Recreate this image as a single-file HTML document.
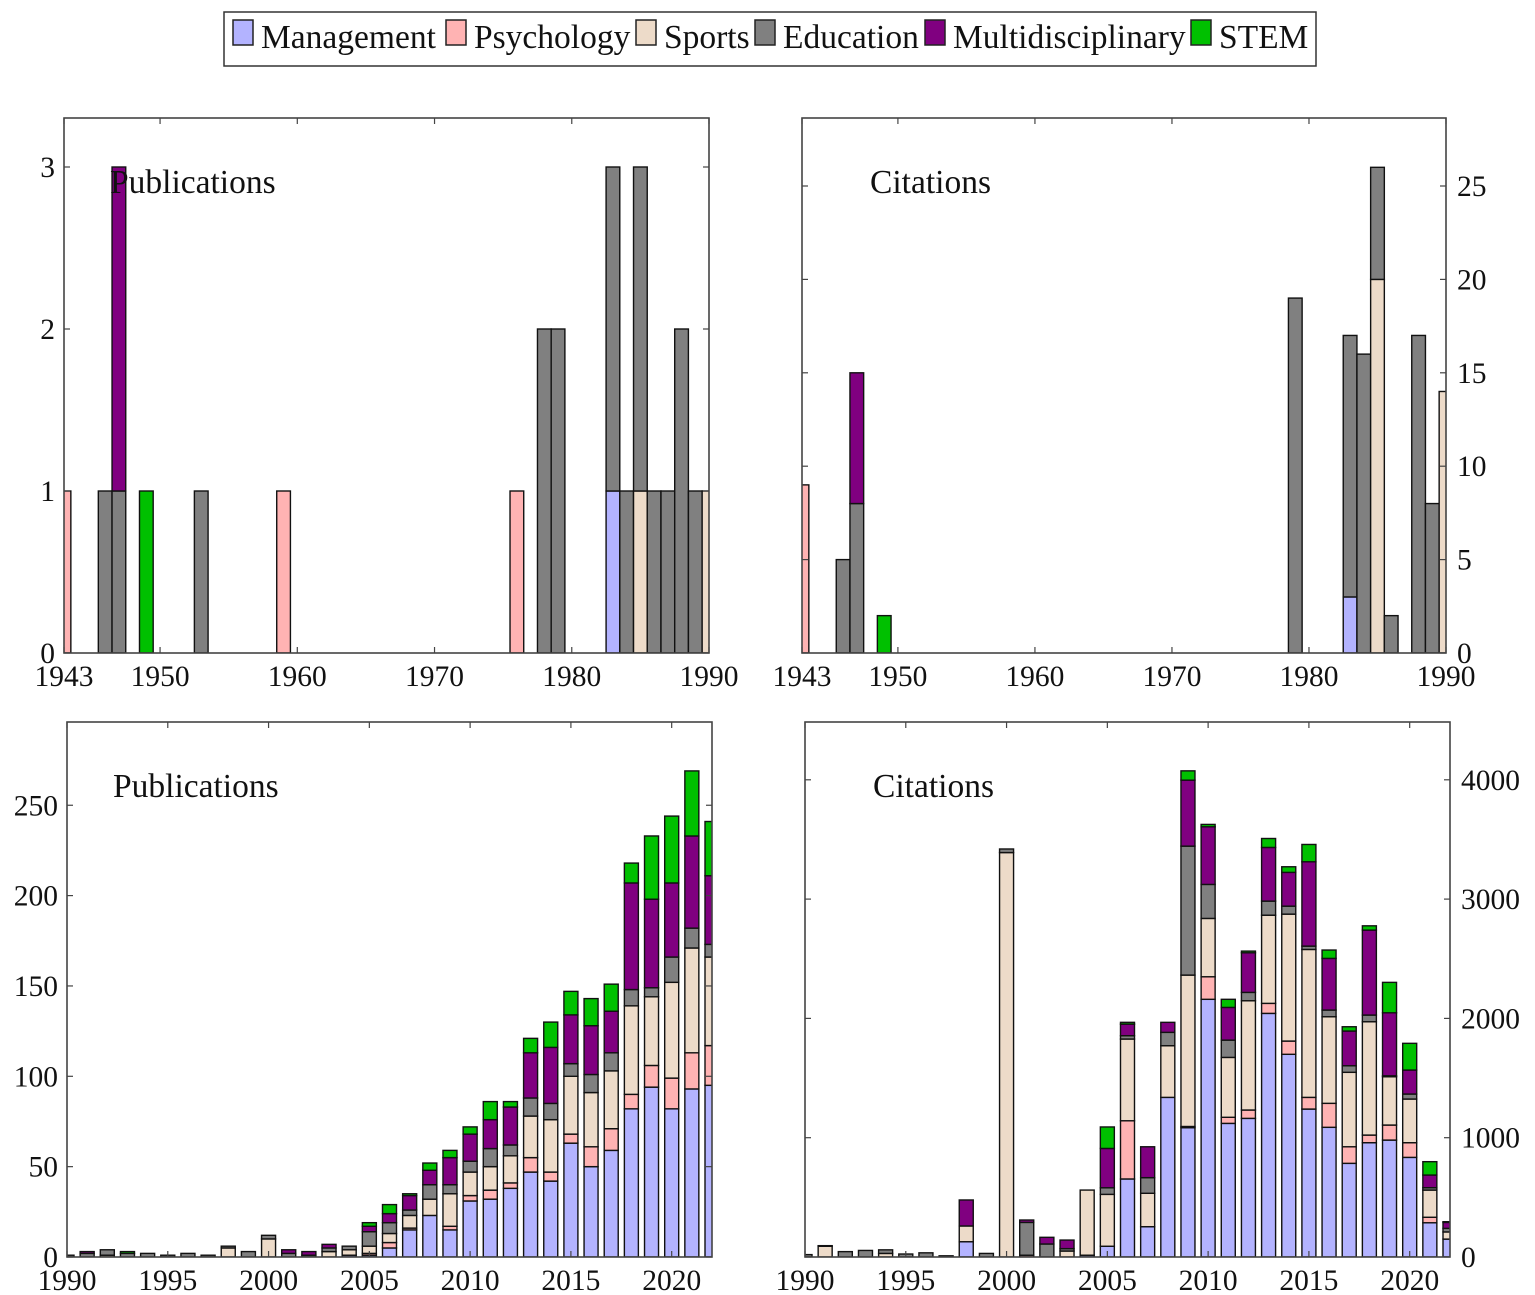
<!DOCTYPE html>
<html><head><meta charset="utf-8"><style>
html,body{margin:0;padding:0;background:#fff;}
svg{display:block;font-family:"Liberation Serif",serif;}
</style></head><body>
<svg id="chart" width="1535" height="1295" viewBox="0 0 1535 1295" xmlns="http://www.w3.org/2000/svg">
<g id="legend">
<rect x="224" y="12" width="1092" height="54" fill="#fff" stroke="#333" stroke-width="1.5"/>
</g>
</svg>
<script>
// ---------- data ----------
const categories = ["Management","Psychology","Sports","Education","Multidisciplinary","STEM"];
const colors = ["#b3b3ff","#ffb3b3","#eddbc9","#808080","#800080","#00c000"];

// top-left: early publications
const earlyPubYears = [1943,1946,1947,1949,1953,1959,1976,1978,1979,1983,1984,1985,1986,1987,1988,1989,1990];
const earlyPubMgmt  = [0,0,0,0,0,0,0,0,0,1,0,0,0,0,0,0,0];
const earlyPubPsych = [1,0,0,0,0,1,1,0,0,0,0,0,0,0,0,0,0];
const earlyPubSports= [0,0,0,0,0,0,0,0,0,0,0,1,0,0,0,0,1];
const earlyPubEdu   = [0,1,1,0,1,0,0,2,2,2,1,2,1,1,2,1,0];
const earlyPubMulti = [0,0,2,0,0,0,0,0,0,0,0,0,0,0,0,0,0];
const earlyPubStem  = [0,0,0,1,0,0,0,0,0,0,0,0,0,0,0,0,0];

// top-right: early citations
const earlyCitYears = [1943,1946,1947,1949,1979,1983,1984,1985,1986,1988,1989,1990];
const earlyCitMgmt  = [0,0,0,0,0,3,0,0,0,0,0,0];
const earlyCitPsych = [9,0,0,0,0,0,0,0,0,0,0,0];
const earlyCitSports= [0,0,0,0,0,0,0,20,0,0,0,14];
const earlyCitEdu   = [0,5,8,0,19,14,16,6,2,17,8,0];
const earlyCitMulti = [0,0,7,0,0,0,0,0,0,0,0,0];
const earlyCitStem  = [0,0,0,2,0,0,0,0,0,0,0,0];

// bottom: 1990-2022
const lateYears = [1990,1991,1992,1993,1994,1995,1996,1997,1998,1999,2000,2001,2002,2003,2004,2005,2006,2007,2008,2009,2010,2011,2012,2013,2014,2015,2016,2017,2018,2019,2020,2021,2022];
const latePubMgmt  = [0,0,0,0,0,0,0,0,0,0,0,0,0,0,1,1,5,15,23,15,31,32,38,47,42,63,50,59,82,94,82,93,95];
const latePubPsych = [0,0,0,0,0,0,0,0,0,0,0,0,0,0,0,1,3,1,0,2,3,5,3,8,5,5,11,12,8,12,17,20,22];
const latePubSports= [0,0,1,0,0,0,0,0,5,0,10,0,0,3,3,4,5,7,9,18,13,13,15,23,29,32,30,32,49,38,53,58,49];
const latePubEdu   = [1,2,3,2,2,1,2,1,1,3,2,2,1,2,2,8,6,3,8,5,6,10,6,10,9,7,10,10,9,5,14,11,7];
const latePubMulti = [0,1,0,0,0,0,0,0,0,0,0,2,2,2,0,3,5,8,8,15,15,16,21,25,31,27,27,23,59,49,41,51,38];
const latePubStem  = [0,0,0,1,0,0,0,0,0,0,0,0,0,0,0,2,5,1,4,4,4,10,3,8,14,13,15,15,11,35,37,36,30];

const lateCitMgmt  = [0,0,0,0,0,0,0,0,128,0,0,0,0,0,15,90,654,254,1338,1084,2160,1120,1162,2042,1699,1240,1087,785,958,980,835,287,150];
const lateCitPsych = [0,0,0,0,0,0,0,0,0,0,0,15,0,0,0,0,488,0,0,10,189,51,70,84,111,98,201,139,64,126,123,46,0];
const lateCitSports= [0,90,0,0,30,0,0,0,132,0,3390,0,0,50,546,435,685,280,433,1269,489,502,916,739,1064,1240,726,624,950,405,366,228,60];
const lateCitEdu   = [20,5,45,55,30,25,35,10,0,30,30,275,109,20,0,55,28,131,112,1081,285,145,70,118,67,28,56,55,56,8,42,20,30];
const lateCitMulti = [0,0,0,0,0,0,0,0,218,0,0,20,56,72,0,330,97,259,84,553,483,274,332,450,283,707,433,291,712,528,201,106,50];
const lateCitStem  = [0,0,0,0,0,0,0,0,0,0,0,0,0,0,0,180,15,0,0,78,20,68,14,75,47,145,70,36,36,255,224,112,6];

const earlyXTicks = [1943,1950,1960,1970,1980,1990];
const lateXTicks = [1990,1995,2000,2005,2010,2015,2020];
const pubEarlyYTicks = [0,1,2,3];
const citEarlyYTicks = [0,5,10,15,20,25];
const pubLateYTicks = [0,50,100,150,200,250];
const citLateYTicks = [0,1000,2000,3000,4000];

// ---------- drawing ----------
const NS = "http://www.w3.org/2000/svg";
const svg = document.getElementById("chart");
function mk(tag, attrs, parent){
  const e = document.createElementNS(NS, tag);
  for (const k in attrs) e.setAttribute(k, attrs[k]);
  (parent||svg).appendChild(e);
  return e;
}

// legend
const legendX = [233,446,636,755,925,1191];
const legend = document.getElementById("legend");
categories.forEach((c,i)=>{
  const sw = mk("rect",{x:legendX[i],y:20,width:20,height:25,fill:colors[i],stroke:"#222","stroke-width":1.5},legend);
  
  
  const t = mk("text",{x:legendX[i]+28,y:48,"font-size":33.5,fill:"#111"},legend);
  t.textContent = c;
  
  
});

function panel(cfg){
  const g = mk("g",{});
  
  
  const {x0,x1,y0,y1,xmin,xmax,ymax,ypx} = cfg;
  const sx = v => x0 + (v - xmin) * (x1 - x0) / (xmax - xmin);
  const sy = v => y1 - v * ypx;
  const clipId = "clip-" + cfg.name;
  const cp = mk("clipPath",{id:clipId},g);
  mk("rect",{x:x0,y:y0,width:x1-x0,height:y1-y0},cp);
  const bars = mk("g",{"clip-path":"url(#"+clipId+")"},g);
  
  
  cfg.years.forEach((yr,i)=>{
    let cum = 0;
    cfg.series.forEach((s,k)=>{
      const v = s[i];
      if (!v) return;
      const ya = sy(cum), yb = sy(cum+v);
      const r = mk("rect",{x:sx(yr)-cfg.bw/2,y:yb,width:cfg.bw,height:ya-yb,fill:colors[k],stroke:"#111","stroke-width":1.4},bars);
      
      
      cum += v;
    });
  });
  const fr = mk("rect",{x:x0,y:y0,width:x1-x0,height:y1-y0,fill:"none",stroke:"#444","stroke-width":1.6},g);
  
  
  cfg.xticks.forEach(t=>{
    const x = sx(t);
    mk("line",{x1:x,y1:y1,x2:x,y2:y1-6,stroke:"#444","stroke-width":1.2},g);
    mk("line",{x1:x,y1:y0,x2:x,y2:y0+6,stroke:"#444","stroke-width":1.2},g);
    const tx = mk("text",{x:x,y:y1+33,"font-size":29.5,"text-anchor":"middle",fill:"#111"},g);
    tx.textContent = t;
    
    
  });
  cfg.yticks.forEach(t=>{
    const y = sy(t);
    mk("line",{x1:x0,y1:y,x2:x0+6,y2:y,stroke:"#444","stroke-width":1.2},g);
    mk("line",{x1:x1,y1:y,x2:x1-6,y2:y,stroke:"#444","stroke-width":1.2},g);
    const tx = mk("text",{x:cfg.right ? x1+11 : x0-9,y:y+10,"font-size":29.5,"text-anchor":cfg.right?"start":"end",fill:"#111"},g);
    tx.textContent = t;
    
    
  });
  const title = mk("text",{x:cfg.tx,y:cfg.ty,"font-size":33.5,fill:"#111"},g);
  title.textContent = cfg.title;
  
  
}

panel({name:"early-publications",x0:64,x1:709,y0:118,y1:653,xmin:1943,xmax:1990,ypx:162,bw:13.7,
  years:earlyPubYears,series:[earlyPubMgmt,earlyPubPsych,earlyPubSports,earlyPubEdu,earlyPubMulti,earlyPubStem],
  xticks:earlyXTicks,yticks:pubEarlyYTicks,right:false,title:"Publications",tx:110,ty:193});
panel({name:"early-citations",x0:802,x1:1446,y0:118,y1:653,xmin:1943,xmax:1990,ypx:18.68,bw:13.7,
  years:earlyCitYears,series:[earlyCitMgmt,earlyCitPsych,earlyCitSports,earlyCitEdu,earlyCitMulti,earlyCitStem],
  xticks:earlyXTicks,yticks:citEarlyYTicks,right:true,title:"Citations",tx:870,ty:193});
panel({name:"late-publications",x0:67,x1:712,y0:722,y1:1257,xmin:1990,xmax:2022,ypx:1.807,bw:14,
  years:lateYears,series:[latePubMgmt,latePubPsych,latePubSports,latePubEdu,latePubMulti,latePubStem],
  xticks:lateXTicks,yticks:pubLateYTicks,right:false,title:"Publications",tx:113,ty:797});
panel({name:"late-citations",x0:805,x1:1450,y0:722,y1:1257,xmin:1990,xmax:2022,ypx:0.1193,bw:14,
  years:lateYears,series:[lateCitMgmt,lateCitPsych,lateCitSports,lateCitEdu,lateCitMulti,lateCitStem],
  xticks:lateXTicks,yticks:citLateYTicks,right:true,title:"Citations",tx:873,ty:797});
</script>
</body></html>
